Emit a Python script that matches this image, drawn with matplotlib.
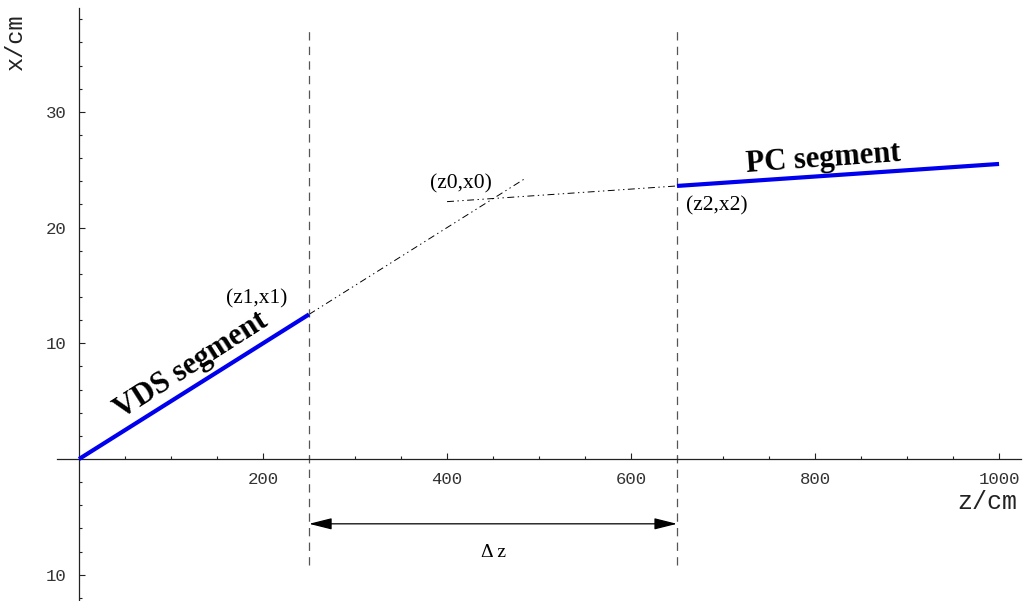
import matplotlib
matplotlib.use("Agg")
import matplotlib.pyplot as plt
import numpy as np

plt.rcParams['lines.scale_dashes'] = False

# Data
vds_z = [0, 250]
vds_x = [0, 12.5]
pc_z = [650, 1000]
pc_x = [23.6, 25.5]
vds_ext_z = [250, 485]
pc_ext_z = [400, 650]
boundaries_z = [250, 650]
xticks = [200, 400, 600, 800, 1000]
yticks = [-10, 10, 20, 30]
ytick_labels = ["10", "10", "20", "30"]

fig = plt.figure(figsize=(10.26, 6.01), dpi=100)
ax = fig.add_axes([0, 0, 1, 1])
ax.set_xlim(-85.9, 1029.3)
ax.set_ylim(-12.27, 39.67)

for s in ['top', 'right']:
    ax.spines[s].set_visible(False)
ax.spines['left'].set_position(('data', 0))
ax.spines['bottom'].set_position(('data', 0))
ax.spines['left'].set_bounds(-12.3, 39.0)
ax.spines['bottom'].set_bounds(-24, 1024)
for s in ['left', 'bottom']:
    ax.spines[s].set_linewidth(0.9)
    ax.spines[s].set_color('#222222')

ax.set_xticks(xticks)
ax.set_xticklabels([str(t) for t in xticks])
ax.set_yticks(yticks)
ax.set_yticklabels(ytick_labels)
ax.set_xticks([t for t in range(50, 1001, 50) if t % 200 != 0], minor=True)
ax.set_yticks([t for t in range(-12, 39, 2) if t % 10 != 0], minor=True)
ax.tick_params(which='major', direction='in', length=4.5, width=0.8, color='#222222',
               labelsize=12.5, labelcolor='#333333', pad=9)
ax.tick_params(which='minor', direction='in', length=2.5, width=0.8, color='#222222')
for lab in ax.get_xticklabels() + ax.get_yticklabels():
    lab.set_fontfamily('Liberation Mono')

# Axis labels
fig.text(987 / 1026, 1 - 502 / 601, 'z/cm', family='Liberation Mono', fontsize=18,
         ha='center', va='center', color='#222222')
fig.text(15 / 1026, 1 - 42 / 601, 'x/cm', family='Liberation Mono', fontsize=17,
         ha='center', va='center', rotation=90, color='#222222')

# Segments
ax.plot(vds_z, vds_x, color='#0000ee', lw=3.0, solid_capstyle='butt', zorder=5)
ax.plot(pc_z, pc_x, color='#0000ee', lw=3.0, solid_capstyle='butt', zorder=5)

# Extrapolations
s1 = (vds_x[1] - vds_x[0]) / (vds_z[1] - vds_z[0])
s2 = (pc_x[1] - pc_x[0]) / (pc_z[1] - pc_z[0])
e1 = [vds_x[1] + s1 * (z - vds_z[1]) for z in vds_ext_z]
e2 = [pc_x[0] + s2 * (z - pc_z[0]) for z in pc_ext_z]
dd = (0, (5, 2.5, 1, 2.5, 1, 2.5))
ax.plot(vds_ext_z, e1, color='black', lw=0.7, linestyle=dd)
ax.plot(pc_ext_z, e2, color='black', lw=0.7, linestyle=dd)

# Boundaries
for zb in boundaries_z:
    ax.plot([zb, zb], [-9.2, 37.3], color='#555555', lw=0.9, linestyle=(0, (6, 4.5)))

# Delta z arrow
ax.annotate('', xy=(boundaries_z[0], -5.6), xytext=(boundaries_z[1], -5.6),
            arrowprops=dict(arrowstyle='<|-|>,head_length=1.4,head_width=0.35',
                            color='black', lw=0.9, shrinkA=0, shrinkB=0))
ax.text(450, -8.1, 'Δ z', family='Liberation Serif', fontsize=14, ha='center', va='center')

# Labels
ax.text(193, 13.8, '(z1,x1)', family='Liberation Serif', fontsize=15.5, ha='center', va='center')
ax.text(415, 23.8, '(z0,x0)', family='Liberation Serif', fontsize=15.5, ha='center', va='center')
ax.text(693, 21.9, '(z2,x2)', family='Liberation Serif', fontsize=15.5, ha='center', va='center')

ax.text(809, 25.95, 'PC segment', family='Liberation Serif', fontsize=22, weight='bold',
        ha='center', va='center', rotation=4.1, rotation_mode='anchor')
ax.text(122, 8.1, 'VDS segment', family='Liberation Serif', fontsize=22, weight='bold',
        ha='center', va='center', rotation=32.5, rotation_mode='anchor')

fig.savefig('out.png', dpi=100)
